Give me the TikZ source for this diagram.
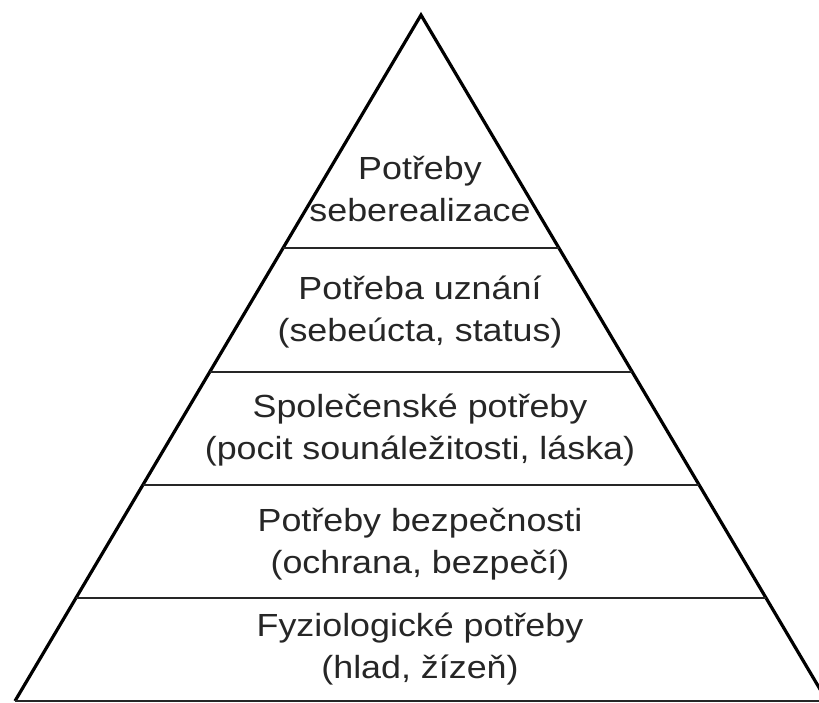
\documentclass[tikz,border=0pt]{standalone}
\usepackage{fontspec}
\setmainfont[FakeStretch=1.12]{Liberation Sans}
\usetikzlibrary{calc}
\tikzstyle{side} = [line width=3.2pt, line join=miter]
\tikzstyle{level} = [line width=2.4pt, draw=black!85]
\tikzstyle{need} = [align=center, anchor=base, inner sep=0pt, text=black!85,
                    font=\fontsize{32}{42}\selectfont]

\begin{document}
\begin{tikzpicture}[x=1pt, y=1pt]
  \useasboundingbox (0,0) rectangle (819,702);
  \clip (0,0) rectangle (819,702);
  % outline of the pyramid
  \coordinate (top) at (421,687);
  \coordinate (bl) at (15,1);
  \coordinate (br) at (827,1);
  \draw [side] (bl) -- (top) -- (br);
  \draw [level] (bl) -- (br);
  % the levels
  \draw [level] ($(bl)!0.660!(top)$) -- ($(br)!0.660!(top)$);
  \draw [level] ($(bl)!0.480!(top)$) -- ($(br)!0.480!(top)$);
  \draw [level] ($(bl)!0.315!(top)$) -- ($(br)!0.315!(top)$);
  \draw [level] ($(bl)!0.150!(top)$) -- ($(br)!0.150!(top)$);
  \node (self) [need] at (420,480) {Potřeby\\seberealizace};
  \node (esteem) [need] at (420,360) {Potřeba uznání\\(sebeúcta, status)};
  \node (social) [need] at (420,242) {Společenské potřeby\\(pocit sounáležitosti, láska)};
  \node (safety) [need] at (420,129) {Potřeby bezpečnosti\\(ochrana, bezpečí)};
  \node (body) [need] at (420,24) {Fyziologické potřeby\\(hlad, žízeň)};
\end{tikzpicture}
\end{document}
